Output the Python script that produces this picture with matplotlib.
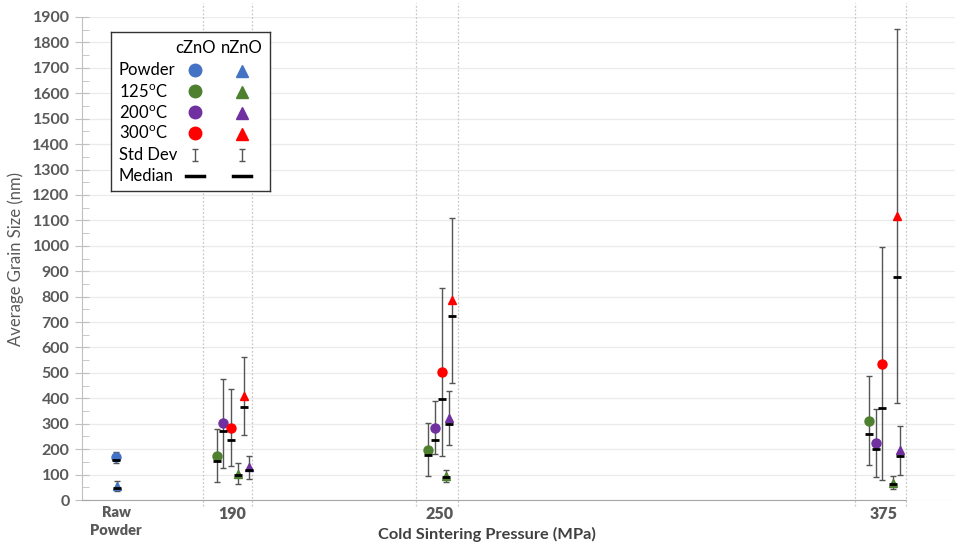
import numpy as np
import matplotlib.pyplot as plt
from matplotlib.font_manager import FontProperties

plt.rcParams['font.family'] = ['Lato', 'DejaVu Sans']
plt.rcParams['mathtext.default'] = 'regular'

# Raw powder (mean, std dev, median)
powder_x = [157.0, 157.3]
powder_mean = [168, 56]
powder_sd = [22, 20]
powder_med = [158, 48]

# Cold sintered samples, x = measured pressure (MPa)
c125_x = [185.6, 245.8, 371.3]
c125_mean = [175, 198, 312]
c125_sd = [103, 104, 176]
c125_med = [153, 178, 260]

c200_x = [187.5, 247.7, 373.2]
c200_mean = [301, 285, 225]
c200_sd = [174, 105, 133]
c200_med = [271, 237, 202]

c300_x = [189.6, 249.8, 375.1]
c300_mean = [285, 503, 536]
c300_sd = [153, 330, 459]
c300_med = [236, 399, 363]

n125_x = [191.6, 250.8, 378.1]
n125_mean = [104, 95, 68]
n125_sd = [42, 23, 26]
n125_med = [97, 89, 63]

n200_x = [194.8, 251.8, 380.2]
n200_mean = [128, 323, 195]
n200_sd = [45, 107, 97]
n200_med = [119, 300, 172]

n300_x = [193.5, 252.7, 379.2]
n300_mean = [409, 785, 1118]
n300_sd = [155, 326, 735]
n300_med = [367, 723, 876]

# pressure ranges marked by dotted lines
range_lines = [181.7, 195.8, 242.4, 254.3, 367.3, 381.8]

tick_pos = [157, 190, 249, 375.5]
tick_labels = ['Raw\nPowder', '190', '250', '375']

blue = '#4472C4'
green = '#4E8030'
purple = '#7030A0'
red = '#FF0000'

fig = plt.figure(figsize=(9.58, 5.43), dpi=100)
ax = fig.add_axes([82 / 958, 1 - 500 / 543, 873 / 958, 483 / 543])

series = [
    (powder_x[:1], powder_mean[:1], powder_sd[:1], powder_med[:1], 'o', blue),
    (powder_x[1:], powder_mean[1:], powder_sd[1:], powder_med[1:], '^', blue),
    (c125_x, c125_mean, c125_sd, c125_med, 'o', green),
    (c200_x, c200_mean, c200_sd, c200_med, 'o', purple),
    (c300_x, c300_mean, c300_sd, c300_med, 'o', red),
    (n125_x, n125_mean, n125_sd, n125_med, '^', green),
    (n200_x, n200_mean, n200_sd, n200_med, '^', purple),
    (n300_x, n300_mean, n300_sd, n300_med, '^', red),
]

for x, m, sd, med, mk, col in series:
    ax.errorbar(x, m, yerr=sd, fmt='none', ecolor='#555555', elinewidth=1,
                capsize=2, capthick=1, zorder=3)
    ax.plot(x, m, linestyle='none', marker=mk, color=col,
            markersize=6.5 if mk == 'o' else 6, zorder=4)
    ax.plot(x, med, linestyle='none', marker='_', color='black',
            markersize=6, markeredgewidth=2, zorder=5)

for xv in range_lines:
    ax.plot([xv, xv], [-0.012, 1.03], transform=ax.get_xaxis_transform(),
            color='#c8c8c8', lw=0.9, ls=(0, (1.5, 1.5)), clip_on=False, zorder=1)

ax.set_xlim(147.3, 395.8)
ax.set_ylim(0, 1900)
ax.set_yticks(np.arange(0, 1901, 100))
ax.set_yticks(np.arange(50, 1900, 100), minor=True)
ax.yaxis.grid(True, color='#ebebeb', lw=0.9)
ax.set_axisbelow(True)

# x labels drawn as text under the axis
ax.set_xticks([])
for p, lab in zip(tick_pos, tick_labels):
    size = 10.5 if '\n' in lab else 11.5
    fp = FontProperties(family=['Lato', 'DejaVu Sans'], weight='heavy', size=size)
    ax.text(p, -0.012, lab, transform=ax.get_xaxis_transform(), ha='center',
            va='top', fontproperties=fp, color='#595959', linespacing=1.45)

ax.tick_params(axis='y', which='major', direction='inout', length=10,
               color='#c0c0c0', labelcolor='#595959', labelsize=11.5, pad=4)
ax.tick_params(axis='y', which='minor', direction='in', length=5, color='#c0c0c0')
for lbl in ax.get_yticklabels():
    lbl.set_fontweight('bold')

for s in ['top', 'right']:
    ax.spines[s].set_visible(False)
ax.spines['left'].set_color('#c0c0c0')
ax.spines['bottom'].set_color('#a6a6a6')
ax.spines['bottom'].set_bounds(147.3, range_lines[-1])

ax.set_ylabel('Average Grain Size (nm)', fontsize=12, color='#595959', labelpad=6)
fig.text(487 / 958, 1 - 534 / 543, 'Cold Sintering Pressure (MPa)', ha='center',
         va='center', fontsize=11.8, fontweight='bold', color='#404040')

# custom legend box
lg = fig.add_axes([111 / 958, 1 - 191 / 543, 159 / 958, 159 / 543])
lg.set_xlim(0, 159)
lg.set_ylim(159, 0)
lg.set_xticks([])
lg.set_yticks([])
for s in lg.spines.values():
    s.set_color('#333333')
    s.set_linewidth(1)

col_x = [84, 131]
rows = [38, 59, 80, 101, 123, 144]
row_labels = ['Powder', '125$^{o}$C', '200$^{o}$C', '300$^{o}$C', 'Std Dev', 'Median']
row_colors = [blue, green, purple, red]
fs = 12
lg.text(col_x[0], 16, 'cZnO', ha='center', va='center', fontsize=fs)
lg.text(col_x[1], 16, 'nZnO', ha='center', va='center', fontsize=fs)
for y, lab in zip(rows, row_labels):
    lg.text(8, y, lab, ha='left', va='center', fontsize=fs)
for y, col in zip(rows[:4], row_colors):
    lg.plot(col_x[0], y, 'o', color=col, markersize=9)
    lg.plot(col_x[1], y + 0.5, '^', color=col, markersize=9)
for cx in col_x:
    lg.errorbar(cx, rows[4], yerr=6, fmt='none', ecolor='#555555', elinewidth=1,
                capsize=2.5, capthick=1)
    lg.plot([cx - 9, cx + 9], [rows[5], rows[5]], color='black', lw=2.5)

fig.savefig('out.png', dpi=100)
